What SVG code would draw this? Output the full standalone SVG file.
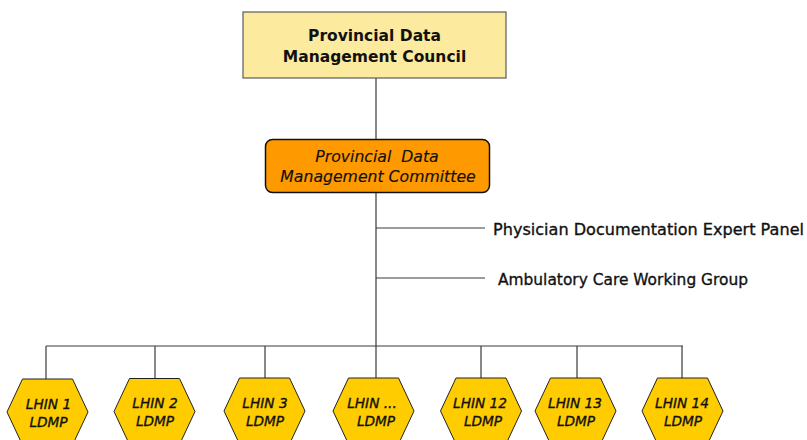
<svg xmlns="http://www.w3.org/2000/svg" width="807" height="440" viewBox="0 0 807 440">
  <style>
    .ln { stroke: #3a3a3a; stroke-width: 1.2; fill: none; }
    .council { fill: #fcea9f; stroke: #5a5a5a; stroke-width: 1.2; }
    .committee { fill: #ff9900; stroke: #111; stroke-width: 1.5; }
    .hex { fill: #ffcc00; stroke: #222; stroke-width: 1; }
    .bold { font-family: "DejaVu Sans", Verdana, sans-serif; font-weight: bold; font-size: 15.5px; fill: #111; text-anchor: middle; }
    .it { font-family: "DejaVu Sans", Verdana, sans-serif; font-style: italic; font-size: 15.7px; fill: #111; text-anchor: middle; stroke: #111; stroke-width: 0.15; }
    .side { font-family: "DejaVu Sans", Verdana, sans-serif; font-size: 15.8px; fill: #111; stroke: #111; stroke-width: 0.35; }
    .hx { font-family: "DejaVu Sans", Verdana, sans-serif; font-style: italic; font-size: 13.7px; fill: #111; text-anchor: middle; stroke: #111; stroke-width: 0.35; }
  </style>
  <defs>
    <polygon id="hexagon" points="-40.5,0 -25,-33 25,-33 40.5,0 25,33 -25,33"/>
  </defs>

  <g id="connectors">
    <line class="ln" x1="376" y1="78" x2="376" y2="346"/>
    <line class="ln" x1="376" y1="228" x2="485" y2="228"/>
    <line class="ln" x1="376" y1="278" x2="485" y2="278"/>
    <line class="ln" x1="46" y1="346" x2="683" y2="346"/>
    <line class="ln" x1="46" y1="346" x2="46" y2="380"/>
    <line class="ln" x1="155" y1="346" x2="155" y2="379"/>
    <line class="ln" x1="265" y1="346" x2="265" y2="378"/>
    <line class="ln" x1="376" y1="346" x2="376" y2="378"/>
    <line class="ln" x1="481" y1="346" x2="481" y2="378"/>
    <line class="ln" x1="577" y1="346" x2="577" y2="378"/>
    <line class="ln" x1="682" y1="346" x2="682" y2="378"/>
  </g>

  <g id="council">
    <rect class="council" x="243" y="12" width="263" height="66"/>
    <text class="bold" x="374.5" y="41">Provincial Data</text>
    <text class="bold" x="374.5" y="62">Management Council</text>
  </g>

  <g id="committee">
    <rect class="committee" x="265.5" y="139.5" width="224" height="53" rx="7"/>
    <text class="it" x="377" y="162" xml:space="preserve">Provincial  Data</text>
    <text class="it" x="378" y="182">Management Committee</text>
  </g>

  <g id="expert-panel">
    <text class="side" x="493" y="235" textLength="311" lengthAdjust="spacingAndGlyphs">Physician Documentation Expert Panel</text>
  </g>

  <g id="ambulatory-group">
    <text class="side" x="498" y="285" textLength="250" lengthAdjust="spacingAndGlyphs">Ambulatory Care Working Group</text>
  </g>

  <g id="lhin-1">
    <use href="#hexagon" class="hex" x="47.5" y="412"/>
    <text class="hx" x="48.5" y="408.5">LHIN 1</text>
    <text class="hx" x="48.5" y="426.5">LDMP</text>
  </g>
  <g id="lhin-2">
    <use href="#hexagon" class="hex" x="154.5" y="411.5"/>
    <text class="hx" x="155" y="408">LHIN 2</text>
    <text class="hx" x="155" y="426">LDMP</text>
  </g>
  <g id="lhin-3">
    <use href="#hexagon" class="hex" x="264.5" y="411"/>
    <text class="hx" x="265" y="407.5">LHIN 3</text>
    <text class="hx" x="265" y="425.5">LDMP</text>
  </g>
  <g id="lhin-more">
    <use href="#hexagon" class="hex" x="373.5" y="411"/>
    <text class="hx" x="372" y="407.5">LHIN ...</text>
    <text class="hx" x="376" y="425.5">LDMP</text>
  </g>
  <g id="lhin-12">
    <use href="#hexagon" class="hex" x="481" y="411"/>
    <text class="hx" x="480" y="407.5">LHIN 12</text>
    <text class="hx" x="483" y="425.5">LDMP</text>
  </g>
  <g id="lhin-13">
    <use href="#hexagon" class="hex" x="575.5" y="411"/>
    <text class="hx" x="575" y="407.5">LHIN 13</text>
    <text class="hx" x="576" y="425.5">LDMP</text>
  </g>
  <g id="lhin-14">
    <use href="#hexagon" class="hex" x="682.5" y="411"/>
    <text class="hx" x="682" y="407.5">LHIN 14</text>
    <text class="hx" x="683" y="425.5">LDMP</text>
  </g>
</svg>
